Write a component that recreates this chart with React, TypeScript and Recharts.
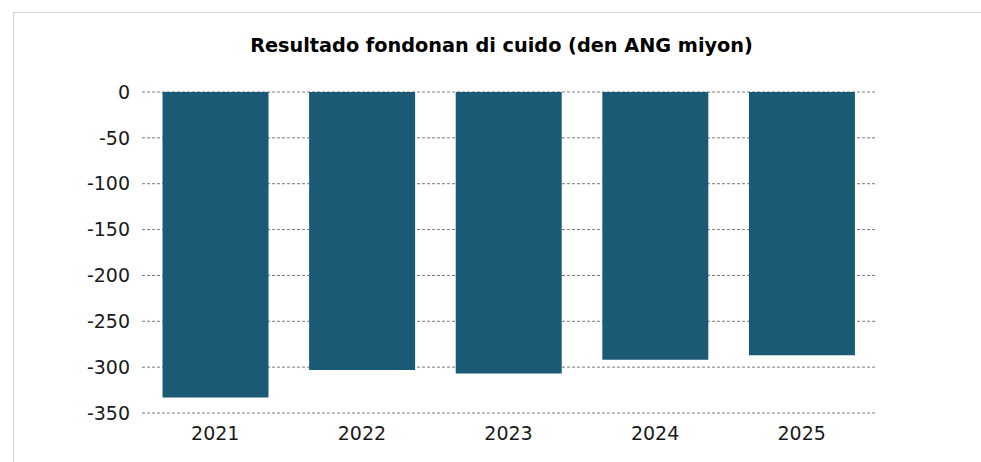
import { Bar, BarChart, CartesianGrid, XAxis, YAxis } from 'recharts'

const years = ['2021', '2022', '2023', '2024', '2025']
const results = [-333, -303, -307, -292, -287]
const yTicks = [0, -50, -100, -150, -200, -250, -300, -350]

const data = years.map((year, i) => ({ year, value: results[i] }))

const font = '"DejaVu Sans", Verdana, sans-serif'

export default function App() {
  return (
    <div style={{ position: 'absolute', left: 0, top: 0, width: 981, height: 462, background: '#fff', overflow: 'hidden' }}>
      {/* frame */}
      <div
        style={{
          position: 'absolute',
          left: 13,
          top: 12,
          width: 1000,
          height: 500,
          border: '1px solid #d4d4d4',
        }}
      />
      <div
        style={{
          position: 'absolute',
          left: 0,
          top: 36,
          width: 1003,
          textAlign: 'center',
          fontFamily: font,
          fontWeight: 'bold',
          fontSize: 19.3,
          lineHeight: '19px',
          color: '#000',
        }}
      >
        Resultado fondonan di cuido (den ANG miyon)
      </div>
      <div style={{ position: 'absolute', left: 0, top: 0 }}>
        <BarChart
          width={981}
          height={462}
          data={data}
          margin={{ top: 92, right: 106, bottom: 19, left: 0 }}
          barCategoryGap="14%"
        >
          <CartesianGrid vertical={false} stroke="#7a7a7a" strokeDasharray="3 2" />
          <XAxis
            dataKey="year"
            axisLine={false}
            tickLine={false}
            tickSize={8}
            tickMargin={6}
            height={30}
            tick={{ fill: '#1a1a1a', fontSize: 19, fontFamily: font }}
          />
          <YAxis
            type="number"
            domain={[-350, 0]}
            ticks={yTicks}
            width={142}
            axisLine={false}
            tickLine={false}
            tickSize={6}
            tickMargin={6}
            interval={0}
            tick={{ fill: '#1a1a1a', fontSize: 19, fontFamily: font }}
          />
          <Bar dataKey="value" fill="#1b5a75" isAnimationActive={false} />
        </BarChart>
      </div>
    </div>
  )
}
